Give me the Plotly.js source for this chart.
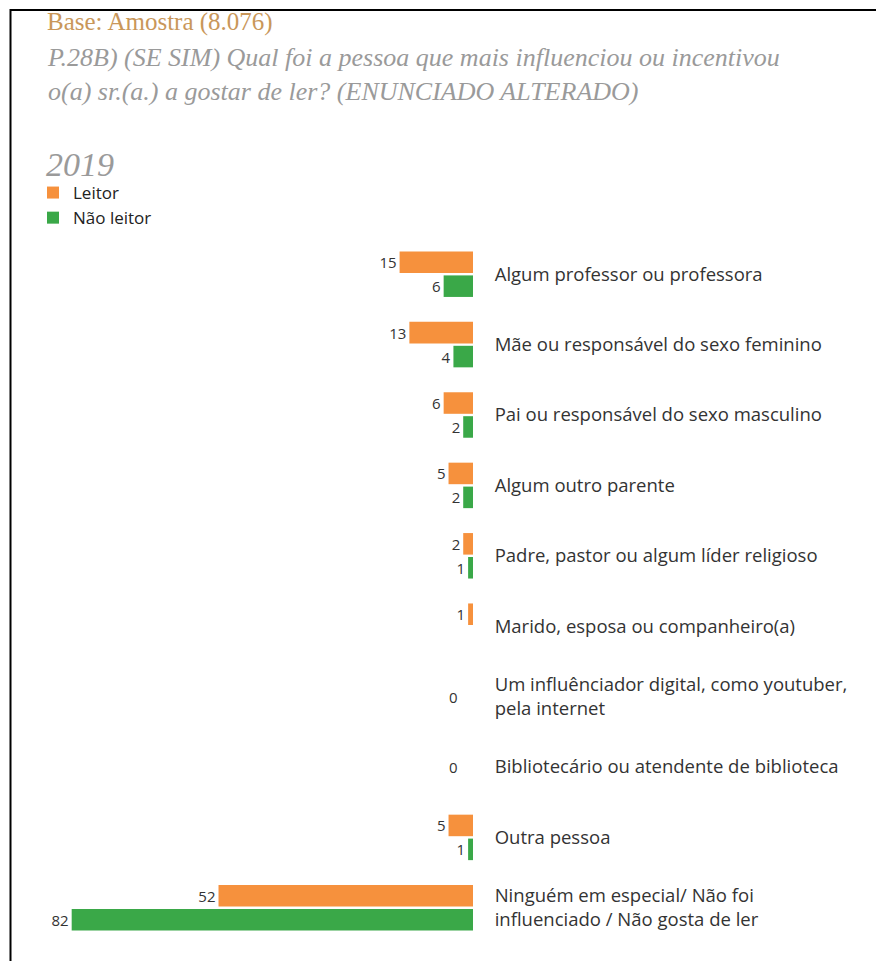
<!DOCTYPE html>
<html>
<head>
<meta charset="utf-8">
<script src="https://cdn.plot.ly/plotly-3.0.1.min.js"></script>
<style>
  html, body { margin: 0; padding: 0; background: #fff; }
  #chart { width: 876px; height: 961px; }
</style>
</head>
<body>
<div id="chart"></div>
<script>
// ---- data ----
var categories = [
  "Algum professor ou professora",
  "Mãe ou responsável do sexo feminino",
  "Pai ou responsável do sexo masculino",
  "Algum outro parente",
  "Padre, pastor ou algum líder religioso",
  "Marido, esposa ou companheiro(a)",
  "Um influênciador digital, como youtuber,<br>pela internet",
  "Bibliotecário ou atendente de biblioteca",
  "Outra pessoa",
  "Ninguém em especial/ Não foi<br>influenciado / Não gosta de ler"
];
var leitor = [15, 13, 6, 5, 2, 1, 0, 0, 5, 52];
var naoLeitor = [6, 4, 2, 2, 1, 0, 0, 0, 1, 82];
var seriesNames = ["Leitor", "Não leitor"];
var titleBase = "Base: Amostra (8.076)";
var titleQuestion = "P.28B) (SE SIM) Qual foi a pessoa que mais influenciou ou incentivou<br>o(a) sr.(a.) a gostar de ler? (ENUNCIADO ALTERADO)";
var yearLabel = "2019";

// ---- layout geometry ----
var W = 876, H = 961;
var ml = 57, mr = 403, mt = 239, mb = 18;
var pw = W - ml - mr, ph = H - mt - mb;
function px2x(px) { return (px - ml) / pw; }
function px2y(py) { return 1 - (py - mt) / ph; }

function labels(arr) { return arr.map(function (v) { return v > 0 ? String(v) : ""; }); }

var orange = "#F6913D", green = "#3AA848";
var numFont = { family: "Open Sans, sans-serif", size: 15, color: "#333" };

var traces = [
  {
    type: "bar", orientation: "h", name: seriesNames[0],
    y: categories, x: leitor,
    marker: { color: orange },
    text: labels(leitor), textposition: "outside", cliponaxis: false,
    constraintext: "none", textfont: numFont,
    hoverinfo: "x+name"
  },
  {
    type: "bar", orientation: "h", name: seriesNames[1],
    y: categories, x: naoLeitor,
    marker: { color: green },
    text: labels(naoLeitor), textposition: "outside", cliponaxis: false,
    constraintext: "none", textfont: numFont,
    hoverinfo: "x+name"
  }
];

// "0" markers for rows where both series are zero
var annotations = [];
categories.forEach(function (c, i) {
  if (leitor[i] === 0 && naoLeitor[i] === 0) {
    annotations.push({
      x: 0, y: c, xref: "x", yref: "y", text: "0", showarrow: false,
      xanchor: "center", yanchor: "middle", xshift: -20,
      font: numFont
    });
  }
});

annotations.push({
  xref: "paper", yref: "paper", x: px2x(45), y: px2y(6),
  xanchor: "left", yanchor: "top", showarrow: false, align: "left",
  text: titleBase,
  font: { family: "Liberation Serif, serif", size: 25, color: "#C9975A" }
});
annotations.push({
  xref: "paper", yref: "paper", x: px2x(45), y: px2y(41),
  xanchor: "left", yanchor: "top", showarrow: false, align: "left",
  text: "<i>" + titleQuestion + "</i>",
  font: { family: "Liberation Serif, serif", size: 26, color: "#9A9A9A" }
});
annotations.push({
  xref: "paper", yref: "paper", x: px2x(44), y: px2y(144),
  xanchor: "left", yanchor: "top", showarrow: false, align: "left",
  text: "<i>" + yearLabel + "</i>",
  font: { family: "Liberation Serif, serif", size: 34, color: "#9A9A9A" }
});

var shapes = [
  { type: "line", xref: "paper", yref: "paper", x0: px2x(10.5), x1: px2x(10.5), y0: px2y(9), y1: px2y(961), line: { color: "#000", width: 2 } },
  { type: "line", xref: "paper", yref: "paper", x0: px2x(10), x1: px2x(876), y0: px2y(10), y1: px2y(10), line: { color: "#000", width: 2 } }
];

var layout = {
  width: W, height: H,
  margin: { l: ml, r: mr, t: mt, b: mb, pad: 0, autoexpand: false },
  paper_bgcolor: "#fff", plot_bgcolor: "#fff",
  barmode: "group", bargap: 0.32, bargroupgap: 0.1,
  showlegend: true,
  legend: {
    xref: "container", yref: "container",
    x: 33 / W, y: 1 - 175 / H, xanchor: "left", yanchor: "top",
    font: { family: "Open Sans, sans-serif", size: 17, color: "#222" },
    tracegroupgap: 0, itemwidth: 30, bgcolor: "rgba(0,0,0,0)"
  },
  xaxis: {
    range: [85, 0], showgrid: false, zeroline: false, showline: false,
    showticklabels: false, ticks: "", fixedrange: true
  },
  yaxis: {
    type: "category", categoryorder: "array", categoryarray: categories,
    autorange: "reversed", side: "right",
    showgrid: false, zeroline: false, showline: false,
    ticks: "outside", ticklen: 17, tickcolor: "rgba(0,0,0,0)",
    tickfont: { family: "Open Sans, sans-serif", size: 18.5, color: "#333" },
    fixedrange: true
  },
  annotations: annotations,
  shapes: shapes,
  font: { family: "Open Sans, sans-serif" }
};

Plotly.newPlot("chart", traces, layout, { displayModeBar: false, staticPlot: true });
</script>
</body>
</html>
